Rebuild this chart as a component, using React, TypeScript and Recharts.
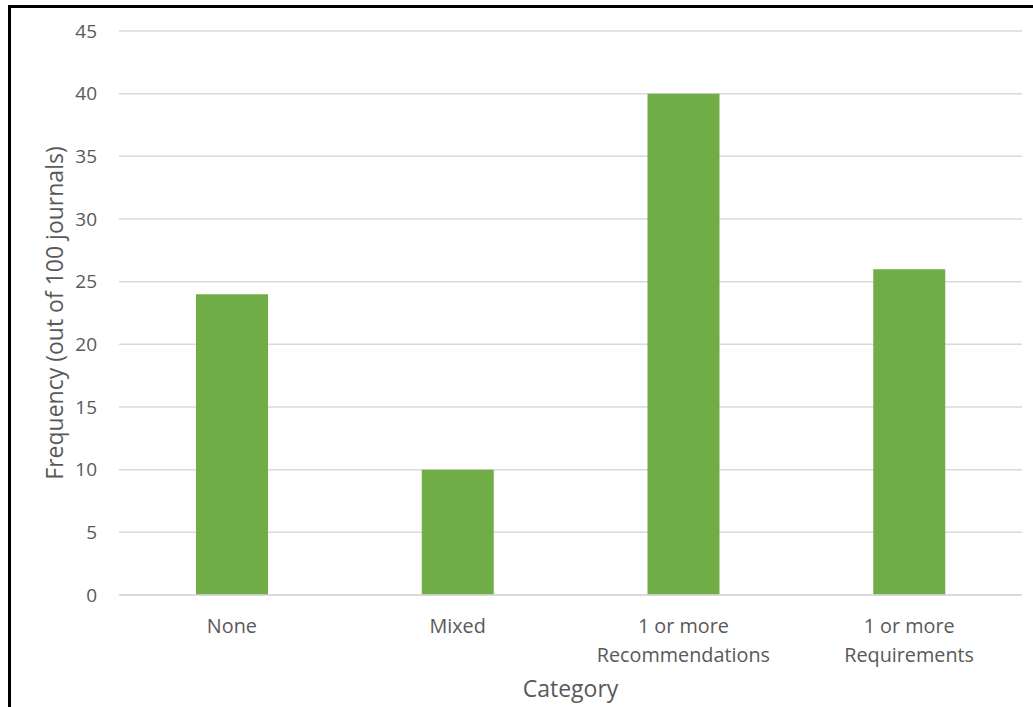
import React from "react";
import { BarChart, Bar, XAxis, YAxis, CartesianGrid, Label } from "recharts";

const categories: string[] = ["None", "Mixed", "1 or more Recommendations", "1 or more Requirements"];
const tickLines: string[][] = [["None"], ["Mixed"], ["1 or more", "Recommendations"], ["1 or more", "Requirements"]];
const frequencies: number[] = [24, 10, 40, 26];
const yTicks: number[] = [0, 5, 10, 15, 20, 25, 30, 35, 40, 45];

const data = categories.map((c, i) => ({ category: c, value: frequencies[i], lines: tickLines[i] }));

const FONT = "'Open Sans', sans-serif";
const TEXT = "#595959";

const CatTick = (props: any) => {
  const { x, y, payload, index } = props;
  const idx = typeof index === "number" ? index : categories.indexOf(payload.value);
  const lines = tickLines[idx] || [String(payload.value)];
  return (
    <g>
      <text x={x} y={y} textAnchor="middle" fill={TEXT} fontSize={19.8} fontFamily={FONT}>
        {lines.map((l, i) => (
          <tspan key={i} x={x} dy={i === 0 ? 38 : 29}>
            {l}
          </tspan>
        ))}
      </text>
    </g>
  );
};

export default function App() {
  return (
    <div style={{ position: "absolute", left: 0, top: 0, width: 1033, height: 707, background: "#fff", overflow: "hidden" }}>
      <div
        style={{
          position: "absolute",
          left: 8,
          top: 5,
          width: 1040,
          height: 720,
          borderLeft: "3px solid #000",
          borderTop: "3px solid #000",
          boxSizing: "border-box",
        }}
      />
      <div style={{ position: "absolute", left: 0, top: 0 }}>
        <BarChart
          width={1033}
          height={707}
          data={data}
          margin={{ top: 31, right: 11, bottom: 2, left: 0 }}
          barSize={72}
        >
          <CartesianGrid vertical={false} stroke="#d9d9d9" strokeWidth={1.5} />
          <XAxis
            dataKey="category"
            height={110}
            axisLine={{ stroke: "#d9d9d9", strokeWidth: 1.5 }}
            tickLine={false}
            tickSize={0}
            tickMargin={0}
            interval={0}
            tick={<CatTick />}
          >
            <Label
              value="Category"
              position="insideBottom"
              offset={8}
              fill={TEXT}
              fontSize={23}
              fontFamily={FONT}
            />
          </XAxis>
          <YAxis
            width={119}
            domain={[0, 45]}
            ticks={yTicks}
            interval={0}
            axisLine={false}
            tickLine={false}
            tickSize={0}
            tickMargin={22}
            tick={{ fill: TEXT, fontSize: 19, fontFamily: FONT }}
          >
            <Label
              value="Frequency (out of 100 journals)"
              angle={-90}
              position="center"
              dx={-5}
              fill={TEXT}
              fontSize={23}
              fontFamily={FONT}
            />
          </YAxis>
          <Bar dataKey="value" fill="#70AD47" isAnimationActive={false} />
        </BarChart>
      </div>
    </div>
  );
}
